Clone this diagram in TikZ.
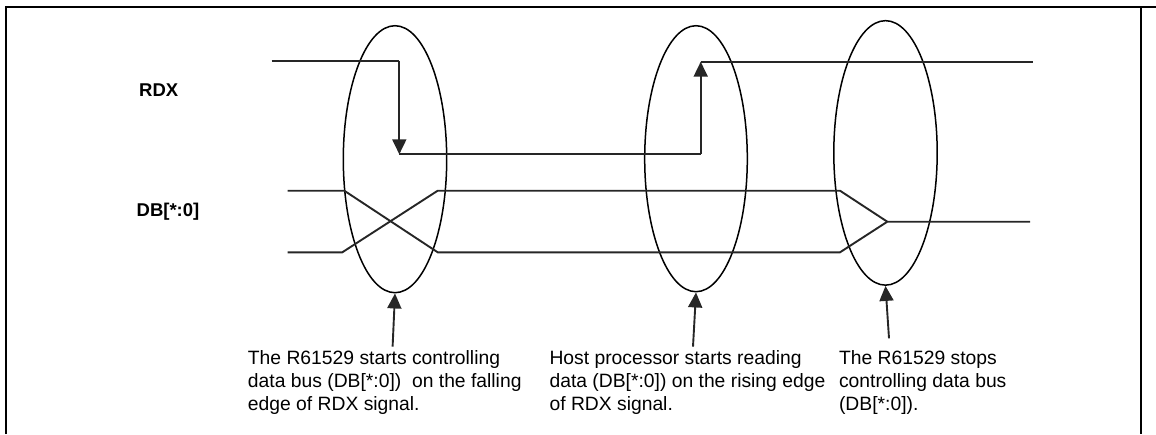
\documentclass[tikz,border=0pt]{standalone}
\usepackage{fontspec}
\setmainfont{Liberation Sans}
\usepackage{tikz}
\usetikzlibrary{arrows.meta}
\usetikzlibrary{shapes.geometric}
\tikzset{every picture/.style={line width=1.5pt}}
\tikzset{
  sig/.style={line width=1.9pt, black!85},
  tip/.style={-{Triangle[length=15pt,width=14pt]}},
  loop/.style={draw, ellipse, inner sep=0pt, line width=1.5pt},
  note/.style={anchor=north west, align=left, inner sep=0pt,
    font=\fontsize{19.3}{23}\selectfont},
  lbl/.style={font=\fontsize{18.5}{22}\selectfont\bfseries, inner sep=0pt}
}

\begin{document}
\begin{tikzpicture}[x=1pt,y=-1pt]
        \useasboundingbox (0,0) rectangle (1156,434);
        \draw[line width=2.3pt] (5.7,434) -- (5.7,6.7) -- (1156,6.7);
        \draw[line width=2pt] (1141,6.7) -- (1141,434);
        %
        \node[loop, minimum width=103.4pt, minimum height=267pt] (e1) at (395,159.2) {};
        \node[loop, minimum width=102.6pt, minimum height=266pt] (e2) at (696,158.7) {};
        \node[loop, minimum width=103.4pt, minimum height=264.5pt] (e3) at (885.5,152.9) {};
        %
        \node[lbl] (rdx) at (158.7,90.5) {RDX};
        \node[lbl] (db) at (168,211.5) {DB[*:0]};
        %
        \draw[sig] (271.7,60.7) -- (399.3,60.7);
        \draw[sig,tip] (399.3,60.7) -- (399.3,154.3);
        \draw[sig] (399.3,154.3) -- (700.7,154.3);
        \draw[sig,tip] (700.7,154.3) -- (700.7,61.7);
        \draw[sig] (700.7,61.7) -- (1033,61.7);
        %
        \draw[sig] (287.7,190.7) -- (344.3,190.7) -- (437.7,252.3) -- (840,252.3) -- (887.3,221.7) -- (1030,221.7);
        \draw[sig] (287.7,252.3) -- (342.3,252.3) -- (437.7,190.7) -- (840,190.7) -- (887.3,221.7);
        %
        \node[note] (t1) at (247.2,350) {The R61529 starts controlling\\data bus (DB[*:0])~ on the falling\\edge of RDX signal.};
        \node[note] (t2) at (548.8,350) {Host processor starts reading\\data (DB[*:0]) on the rising edge\\of RDX signal.};
        \node[note] (t3) at (838.3,350) {The R61529 stops\\controlling data bus\\(DB[*:0]).};
        %
        \coordinate (a1) at (392.6,346.7);
        \coordinate (a2) at (693,346.7);
        \coordinate (a3) at (889,338.3);
        \draw[sig,tip] (a1) -- (e1.south);
        \draw[sig,tip] (a2) -- (e2.south);
        \draw[sig,tip] (a3) -- (e3.south);
\end{tikzpicture}
\end{document}
